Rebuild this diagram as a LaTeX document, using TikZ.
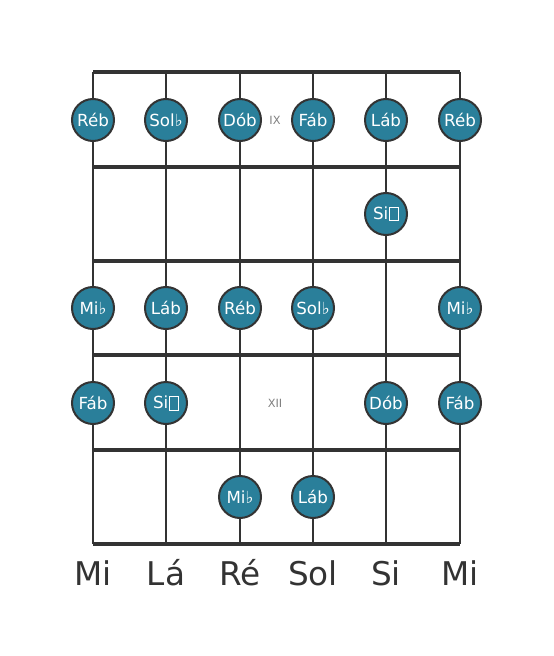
\documentclass[tikz,border=0pt]{standalone}
\usepackage{fontspec}
\setmainfont{DejaVu Sans}
\usepackage{tikz}

\definecolor{notefill}{RGB}{42,127,154}
\definecolor{boardline}{RGB}{51,51,51}

% double flat: no installed font has it, drawn as a small box
\newcommand{\dblflat}{\kern0.5pt\tikz[baseline=0pt]\draw[white, line width=0.5pt] (0,-1pt) rectangle (7pt,9pt);}

\tikzset{
  note/.style={circle, draw=boardline, line width=1.5pt, fill=notefill, minimum size=31.5pt, inner sep=0pt, text=white, font=\fontsize{12.5}{12.5}\selectfont},
  fretmark/.style={text=gray, font=\fontsize{8.5}{9}\selectfont},
  stringname/.style={text=boardline, font=\fontsize{24.5}{25}\selectfont},
  fretline/.style={draw=boardline, line width=3.6pt},
  stringline/.style={draw=boardline, line width=1.9pt}
}

\begin{document}
\begin{tikzpicture}[x=0.75pt, y=-0.75pt]
  \useasboundingbox (0,0) rectangle (553,656);

  % strings
  \foreach \sx [count=\i] in {93,166,240,313,386,460} {
    \coordinate (top\i) at (\sx,72);
    \coordinate (bot\i) at (\sx,544);
    \draw[stringline] (top\i) -- (bot\i);
  }
  % frets
  \foreach \fy [count=\j] in {72,167,261,355,450,544} {
    \coordinate (fl\j) at (93,\fy);
    \coordinate (fr\j) at (460,\fy);
    \draw[fretline] (fl\j) -- (fr\j);
  }

  % fret 9
  \node (a1) [note] at (93,120) {Réb};
  \node (a2) [note] at (166,120) {Sol♭};
  \node (a3) [note] at (240,120) {Dób};
  \node (a4) [note] at (313,120) {Fáb};
  \node (a5) [note] at (386,120) {Láb};
  \node (a6) [note] at (460,120) {Réb};
  \node (ix) [fretmark] at (275,120) {IX};

  % fret 10
  \node (b5) [note] at (386,214) {Si\dblflat};

  % fret 11
  \node (c1) [note] at (93,308) {Mi♭};
  \node (c2) [note] at (166,308) {Láb};
  \node (c3) [note] at (240,308) {Réb};
  \node (c4) [note] at (313,308) {Sol♭};
  \node (c6) [note] at (460,308) {Mi♭};

  % fret 12
  \node (d1) [note] at (93,403) {Fáb};
  \node (d2) [note] at (166,403) {Si\dblflat};
  \node (xii) [fretmark] at (275,403) {XII};
  \node (d5) [note] at (386,403) {Dób};
  \node (d6) [note] at (460,403) {Fáb};

  % fret 13
  \node (e3) [note] at (240,497) {Mi♭};
  \node (e4) [note] at (313,497) {Láb};

  % open strings
  \node (s1) [stringname] at (93,573) {Mi};
  \node (s2) [stringname] at (166,573) {Lá};
  \node (s3) [stringname] at (240,573) {Ré};
  \node (s4) [stringname] at (313,573) {Sol};
  \node (s5) [stringname] at (386,573) {Si};
  \node (s6) [stringname] at (460,573) {Mi};
\end{tikzpicture}
\end{document}
